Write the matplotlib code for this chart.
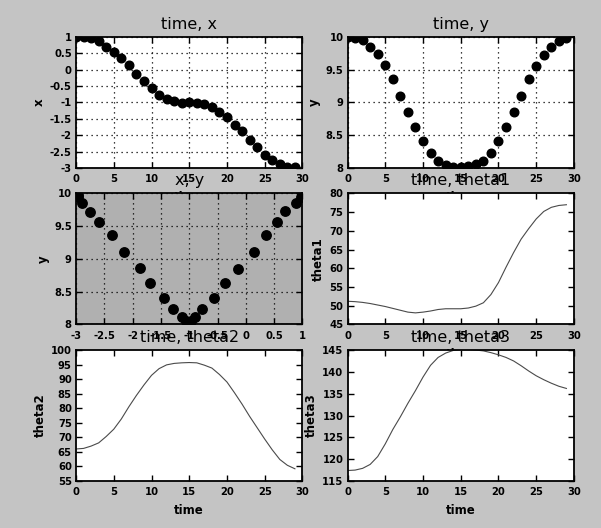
#! /usr/bin/env python3
"""
Six panels of a tracked trajectory: position over time, the path in the
x-y plane and the three joint angles over time.
"""

import matplotlib

matplotlib.use("Agg")
import matplotlib.pyplot as plt
from matplotlib.ticker import FuncFormatter, MultipleLocator

time = list(range(30))

x_pos = [1.0, 1.0, 0.98, 0.88, 0.70, 0.55, 0.35, 0.14, -0.13, -0.36,
         -0.57, -0.77, -0.89, -0.97, -1.02, -1.0, -1.02, -1.05, -1.13, -1.28,
         -1.45, -1.69, -1.87, -2.15, -2.37, -2.60, -2.76, -2.89, -2.96, -2.97]

y_pos = [10.0, 9.99, 9.95, 9.85, 9.74, 9.57, 9.36, 9.10, 8.85, 8.63,
         8.41, 8.23, 8.11, 8.05, 8.02, 8.02, 8.03, 8.06, 8.11, 8.23,
         8.41, 8.63, 8.86, 9.10, 9.36, 9.56, 9.72, 9.85, 9.94, 9.98]

theta1 = [51.2, 51.1, 50.9, 50.6, 50.2, 49.8, 49.3, 48.8, 48.3, 48.1,
          48.3, 48.6, 49.0, 49.2, 49.2, 49.2, 49.4, 49.9, 50.8, 53.0,
          56.2, 60.3, 64.2, 67.8, 70.6, 73.2, 75.2, 76.3, 76.8, 77.0]

theta2 = [66.0, 66.2, 67.0, 68.1, 70.3, 72.8, 76.3, 80.5, 84.4, 88.0,
          91.3, 93.6, 94.9, 95.4, 95.6, 95.7, 95.6, 94.8, 93.8, 91.6,
          89.0, 85.3, 81.4, 77.2, 73.3, 69.4, 65.7, 62.4, 60.4, 59.2]

theta3 = [117.4, 117.5, 117.9, 118.8, 120.6, 123.5, 126.8, 129.7, 132.8, 135.7,
          138.8, 141.5, 143.3, 144.3, 144.9, 145.1, 145.1, 145.0, 144.8, 144.4,
          143.9, 143.3, 142.5, 141.4, 140.2, 139.1, 138.2, 137.4, 136.7, 136.2]

FIG_BG = "#c4c4c4"
PLANE_BG = "#b0b0b0"


def style_axes(ax, xlabel, ylabel, title, grid):
    """
    Old-style frame: inward ticks on every side, bold small labels
    """
    ax.set_title(title, fontsize=11.5)
    ax.set_xlabel(xlabel, fontsize=8.5, fontweight="bold", labelpad=5)
    ax.set_ylabel(ylabel, fontsize=8.5, fontweight="bold", labelpad=3)
    ax.tick_params(direction="in", top=True, right=True, length=4.5,
                   width=1, labelsize=7.2, pad=4.5)
    ax.tick_params(axis="y", pad=3)
    for label in ax.get_xticklabels() + ax.get_yticklabels():
        label.set_fontweight("bold")
    for spine in ax.spines.values():
        spine.set_linewidth(1.3)
    fmt = FuncFormatter(lambda v, _: f"{v:g}")
    ax.xaxis.set_major_formatter(fmt)
    ax.yaxis.set_major_formatter(fmt)
    if grid:
        ax.grid(True, color="black", linestyle=(0, (1, 3)), linewidth=0.9)


def main():
    """
    Driver code
    """
    fig = plt.figure(figsize=(6.01, 5.28), dpi=100, facecolor=FIG_BG)
    axes = fig.subplots(3, 2)
    fig.subplots_adjust(left=0.1265, right=0.955, bottom=0.089, top=0.93,
                        wspace=0.199, hspace=0.195)

    ax = axes[0, 0]
    ax.plot(time, x_pos, "o", color="black", ms=6.2)
    ax.set_xlim(0, 30)
    ax.set_ylim(-3, 1)
    ax.yaxis.set_major_locator(MultipleLocator(0.5))
    ax.xaxis.set_major_locator(MultipleLocator(5))
    style_axes(ax, "time", "x", "time, x", True)

    ax = axes[0, 1]
    ax.plot(time, y_pos, "o", color="black", ms=6.2)
    ax.set_xlim(0, 30)
    ax.set_ylim(8, 10)
    ax.yaxis.set_major_locator(MultipleLocator(0.5))
    ax.xaxis.set_major_locator(MultipleLocator(5))
    style_axes(ax, "time", "y", "time, y", True)

    ax = axes[1, 0]
    ax.set_facecolor(PLANE_BG)
    ax.plot(x_pos, y_pos, "o", color="black", ms=6.8)
    ax.set_xlim(-3, 1)
    ax.set_ylim(8, 10)
    ax.xaxis.set_major_locator(MultipleLocator(0.5))
    ax.yaxis.set_major_locator(MultipleLocator(0.5))
    style_axes(ax, "x", "y", "x, y", True)

    ax = axes[1, 1]
    ax.plot(time, theta1, "-", color="#4a4a4a", lw=0.8)
    ax.set_xlim(0, 30)
    ax.set_ylim(45, 80)
    ax.xaxis.set_major_locator(MultipleLocator(5))
    ax.yaxis.set_major_locator(MultipleLocator(5))
    style_axes(ax, "time", "theta1", "time, theta1", False)

    ax = axes[2, 0]
    ax.plot(time, theta2, "-", color="#4a4a4a", lw=0.8)
    ax.set_xlim(0, 30)
    ax.set_ylim(55, 100)
    ax.xaxis.set_major_locator(MultipleLocator(5))
    ax.yaxis.set_major_locator(MultipleLocator(5))
    style_axes(ax, "time", "theta2", "time, theta2", False)

    ax = axes[2, 1]
    ax.plot(time, theta3, "-", color="#4a4a4a", lw=0.8)
    ax.set_xlim(0, 30)
    ax.set_ylim(115, 145)
    ax.xaxis.set_major_locator(MultipleLocator(5))
    ax.yaxis.set_major_locator(MultipleLocator(5))
    style_axes(ax, "time", "theta3", "time, theta3", False)

    fig.savefig("out.png", dpi=100, facecolor=FIG_BG)


if __name__ == "__main__":
    main()
